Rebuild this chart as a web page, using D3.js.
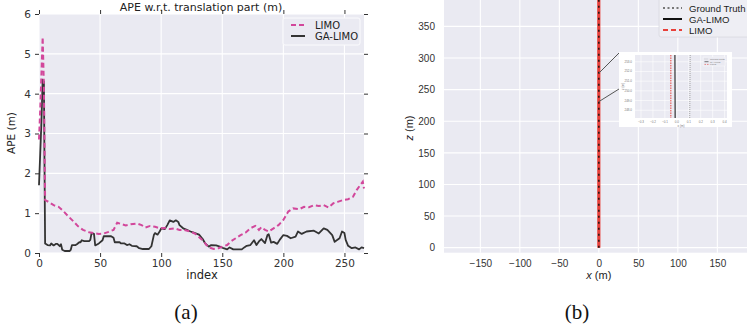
<!DOCTYPE html>
<html>
<head>
<meta charset="utf-8">
<script src="https://cdn.jsdelivr.net/npm/d3@7"></script>
<style>
  html, body { margin: 0; padding: 0; background: #ffffff; }
  svg { display: block; }
</style>
</head>
<body>
<svg id="fig" width="747" height="331"></svg>
<script>
// ---- (a) APE per frame index ----
const limoIdx = [0,1,2,3,4,5,8,12,16,20,24,28,32,36,41,45,49,53,57,61,64,67,71,75,80,84,87,91,95,99,103,107,111,115,119,124,128,132,135,137,140,143,147,150,154,157,161,165,169,173,177,180,182,185,188,192,196,200,204,208,213,217,221,225,229,233,237,241,245,249,253,257,260,263,265,266];
const limoApe = [2.85,3.6,4.5,5.42,4.2,1.33,1.28,1.2,1.16,1.05,0.92,0.8,0.67,0.58,0.52,0.5,0.48,0.49,0.53,0.58,0.76,0.73,0.69,0.72,0.74,0.7,0.64,0.68,0.66,0.62,0.63,0.6,0.62,0.58,0.58,0.54,0.48,0.37,0.29,0.2,0.13,0.1,0.12,0.16,0.2,0.29,0.37,0.45,0.51,0.62,0.68,0.58,0.65,0.58,0.54,0.62,0.7,0.83,1.04,1.12,1.1,1.16,1.15,1.2,1.18,1.2,1.14,1.25,1.29,1.33,1.35,1.41,1.58,1.71,1.79,1.62];

const gaIdx = [0,1,2,3,4,5,7,9,10,12,14,15,17,18,19,21,25,26,27,30,31,33,34,35,37,41,42,43,45,46,49,52,53,59,61,62,66,67,70,72,74,76,80,82,85,90,92,94,95,97,99,100,103,105,107,110,112,114,115,118,121,124,126,131,134,136,139,141,145,148,151,154,156,159,166,168,170,173,176,178,180,182,185,187,188,190,192,195,197,200,203,206,210,212,215,219,225,229,233,236,240,242,246,248,250,251,253,256,259,262,264,266];
const gaApe = [1.7,2.5,3.3,4.35,4.3,0.24,0.2,0.19,0.24,0.19,0.23,0.23,0.17,0.22,0.08,0.05,0.05,0.08,0.2,0.2,0.22,0.27,0.27,0.32,0.3,0.3,0.33,0.5,0.48,0.19,0.24,0.32,0.42,0.42,0.38,0.27,0.27,0.24,0.24,0.2,0.22,0.18,0.17,0.12,0.1,0.1,0.17,0.45,0.5,0.46,0.55,0.62,0.6,0.7,0.82,0.78,0.82,0.78,0.7,0.62,0.58,0.54,0.52,0.46,0.35,0.24,0.16,0.2,0.19,0.16,0.12,0.09,0.14,0.09,0.09,0.14,0.18,0.2,0.32,0.2,0.29,0.35,0.25,0.45,0.47,0.26,0.28,0.23,0.33,0.45,0.43,0.37,0.41,0.54,0.48,0.54,0.56,0.49,0.62,0.58,0.45,0.28,0.37,0.54,0.5,0.33,0.18,0.12,0.14,0.09,0.14,0.12];

const apeXTicks = [0, 50, 100, 150, 200, 250];
const apeYTicks = [0, 1, 2, 3, 4, 5, 6];

// ---- (b) trajectories, x vs z ----
const trajZ    = [0, 100, 200, 247, 254, 300, 400];
const gtX      = [0, 0.05, 0.09, 0.108, 0.112, 0.13, 0.17];
const gaX      = [0, -0.01, -0.012, -0.014, -0.016, -0.02, -0.03];
const limoX    = [0, -0.03, -0.045, -0.05, -0.05, -0.06, -0.08];
const trajXTicks = [-150, -100, -50, 0, 50, 100, 150];
const trajZTicks = [0, 50, 100, 150, 200, 250, 300, 350];
const insetXTicks = [-0.3, -0.2, -0.1, 0.0, 0.1, 0.2, 0.3, 0.4];
const insetZTicks = [248, 249, 250, 251, 252, 253];
const zoomBand = [231, 276];

const BG = "#eaeaf2";
const PINK = "#d2479b";
const DARK = "#333333";
const RED = "#e8403a";
const svg = d3.select("#fig");

/* ================= panel (a) ================= */
const xa = d3.scaleLinear().domain([0, 266]).range([39, 364]);
const ya = d3.scaleLinear().domain([0, 6]).range([253, 14]);
const ga = svg.append("g");

ga.append("rect").attr("x", xa(0)).attr("y", ya(6))
  .attr("width", xa(266) - xa(0)).attr("height", ya(0) - ya(6)).attr("fill", BG);

ga.selectAll(".gx").data(apeXTicks).join("line")
  .attr("x1", d => xa(d)).attr("x2", d => xa(d)).attr("y1", ya(0)).attr("y2", ya(6))
  .attr("stroke", "#fff").attr("stroke-width", 1.1);
ga.selectAll(".gy").data(apeYTicks).join("line")
  .attr("x1", xa(0)).attr("x2", xa(266)).attr("y1", d => ya(d)).attr("y2", d => ya(d))
  .attr("stroke", "#fff").attr("stroke-width", 1.1);

const fontA = "'DejaVu Sans', sans-serif";
function styleAxis(g) {
  g.select(".domain").remove();
  g.selectAll(".tick line").attr("stroke", DARK).attr("stroke-width", 1);
  g.selectAll(".tick text").attr("fill", DARK).style("font-family", fontA).style("font-size", "10.5px");
}
ga.append("g").attr("transform", `translate(0,${ya(0)})`)
  .call(d3.axisBottom(xa).tickValues(apeXTicks).tickSize(4).tickPadding(3)).call(styleAxis);
ga.append("g").attr("transform", `translate(0,${ya(6)})`)
  .call(d3.axisTop(xa).tickValues(apeXTicks).tickSize(4).tickFormat("")).call(styleAxis);
ga.append("g").attr("transform", `translate(${xa(0)},0)`)
  .call(d3.axisLeft(ya).tickValues(apeYTicks).tickSize(4).tickPadding(4).tickFormat(d3.format("d"))).call(styleAxis);
ga.append("g").attr("transform", `translate(${xa(266)},0)`)
  .call(d3.axisRight(ya).tickValues(apeYTicks).tickSize(4).tickFormat("")).call(styleAxis);

const lineA = (xs, ys) => d3.line().x((d, i) => xa(xs[i])).y((d, i) => ya(ys[i]))(xs);
ga.append("path").attr("d", lineA(gaIdx, gaApe)).attr("fill", "none")
  .attr("stroke", DARK).attr("stroke-width", 1.8).attr("stroke-linejoin", "round");
ga.append("path").attr("d", lineA(limoIdx, limoApe)).attr("fill", "none")
  .attr("stroke", PINK).attr("stroke-width", 2).attr("stroke-dasharray", "5,3");

ga.append("text").attr("x", 201).attr("y", 11).attr("text-anchor", "middle")
  .style("font-family", fontA).style("font-size", "11px").attr("fill", "#222")
  .text("APE w.r.t. translation part (m)");
ga.append("text").attr("x", 202).attr("y", 279).attr("text-anchor", "middle")
  .style("font-family", fontA).style("font-size", "11.5px").attr("fill", "#222").text("index");
ga.append("text").attr("transform", "translate(15,133) rotate(-90)").attr("text-anchor", "middle")
  .style("font-family", fontA).style("font-size", "10.5px").attr("fill", "#222").text("APE (m)");

// legend (a)
const lga = ga.append("g").attr("transform", "translate(283,18)");
lga.append("rect").attr("width", 77).attr("height", 27).attr("rx", 2)
  .attr("fill", BG).attr("stroke", "#fbfbfd").attr("stroke-width", 1);
[["LIMO", PINK, "5,3", 7], ["GA-LIMO", DARK, null, 18]].forEach(([t, c, dash, yy]) => {
  const l = lga.append("line").attr("x1", 8).attr("x2", 22).attr("y1", yy).attr("y2", yy)
    .attr("stroke", c).attr("stroke-width", 2);
  if (dash) l.attr("stroke-dasharray", dash);
  lga.append("text").attr("x", 32).attr("y", yy + 3.5).style("font-family", fontA)
    .style("font-size", "10px").attr("fill", "#222").text(t);
});

/* ================= panel (b) ================= */
const xb = d3.scaleLinear().domain([-196, 196]).range([444, 753.7]);
const yb = d3.scaleLinear().domain([-8, 400]).range([252.7, -5.2]);
const gb = svg.append("g");
const fontB = "'Liberation Sans', Arial, sans-serif";

gb.append("rect").attr("x", xb(-196)).attr("y", 0)
  .attr("width", 747 - xb(-196)).attr("height", yb(-8)).attr("fill", BG);
gb.selectAll(".gx").data(trajXTicks).join("line")
  .attr("x1", d => xb(d)).attr("x2", d => xb(d)).attr("y1", 0).attr("y2", yb(-8))
  .attr("stroke", "#fff").attr("stroke-width", 1.1);
gb.selectAll(".gy").data(trajZTicks).join("line")
  .attr("x1", xb(-196)).attr("x2", 747).attr("y1", d => yb(d)).attr("y2", d => yb(d))
  .attr("stroke", "#fff").attr("stroke-width", 1.1);

function styleAxisB(g) {
  g.select(".domain").remove();
  g.selectAll(".tick line").remove();
  g.selectAll(".tick text").attr("fill", "#333").style("font-family", fontB).style("font-size", "10px");
}
gb.append("g").attr("transform", `translate(0,${yb(-8)})`)
  .call(d3.axisBottom(xb).tickValues(trajXTicks).tickSize(0).tickPadding(7)
    .tickFormat(d => d < 0 ? "\u2212" + Math.abs(d) : d)).call(styleAxisB);
gb.append("g").attr("transform", `translate(${xb(-196)},0)`)
  .call(d3.axisLeft(yb).tickValues(trajZTicks).tickSize(0).tickPadding(9)).call(styleAxisB);

gb.append("text").attr("x", xb(0)).attr("y", 279).attr("text-anchor", "middle")
  .style("font-family", fontB).style("font-size", "11px").attr("fill", "#222")
  .html("<tspan font-style='italic'>x</tspan> (m)");
gb.append("text").attr("transform", "translate(413,128) rotate(-90)").attr("text-anchor", "middle")
  .style("font-family", fontB).style("font-size", "11px").attr("fill", "#222")
  .html("<tspan font-style='italic'>z</tspan> (m)");

const clipB = gb.append("clipPath").attr("id", "clipB");
clipB.append("rect").attr("x", xb(-196)).attr("y", 0).attr("width", 747 - xb(-196)).attr("height", yb(-8));
const lineB = (xs, sx, sy) => d3.line().x((d, i) => sx(xs[i])).y((d, i) => sy(trajZ[i]))(xs);

const trajG = gb.append("g").attr("clip-path", "url(#clipB)");
trajG.append("path").attr("d", lineB(gtX, xb, yb)).attr("fill", "none")
  .attr("stroke", "#888").attr("stroke-width", 2).attr("stroke-dasharray", "1.5,2");
trajG.append("path").attr("d", lineB(limoX, xb, yb)).attr("fill", "none")
  .attr("stroke", RED).attr("stroke-width", 3.2);
trajG.append("path").attr("d", lineB(gaX, xb, yb)).attr("fill", "none")
  .attr("stroke", "#111").attr("stroke-width", 1.4).attr("stroke-dasharray", "2,4");

// zoomed inset
const inset = { x0: 619, y0: 52, x1: 732, y1: 127, px0: 635, px1: 727, py0: 55, py1: 118 };
const xi = d3.scaleLinear().domain([-0.35, 0.42]).range([inset.px0, inset.px1]);
const yi = d3.scaleLinear().domain([247.2, 253.7]).range([inset.py1, inset.py0]);

gb.append("line").attr("x1", xb(0)).attr("y1", yb(zoomBand[1])).attr("x2", inset.x0).attr("y2", inset.y0 + 1)
  .attr("stroke", "#555").attr("stroke-width", 1);
gb.append("line").attr("x1", xb(0)).attr("y1", yb(zoomBand[0])).attr("x2", inset.x0).attr("y2", 89)
  .attr("stroke", "#555").attr("stroke-width", 1);

const gi = gb.append("g");
gi.append("rect").attr("x", inset.x0).attr("y", inset.y0).attr("width", inset.x1 - inset.x0)
  .attr("height", inset.y1 - inset.y0).attr("fill", "#fff");
gi.append("rect").attr("x", inset.px0).attr("y", inset.py0).attr("width", inset.px1 - inset.px0)
  .attr("height", inset.py1 - inset.py0).attr("fill", BG);
gi.selectAll(".ix").data(insetXTicks).join("line")
  .attr("x1", d => xi(d)).attr("x2", d => xi(d)).attr("y1", inset.py0).attr("y2", inset.py1)
  .attr("stroke", "#fff").attr("stroke-width", 0.6);
gi.selectAll(".iy").data(insetZTicks).join("line")
  .attr("x1", inset.px0).attr("x2", inset.px1).attr("y1", d => yi(d)).attr("y2", d => yi(d))
  .attr("stroke", "#fff").attr("stroke-width", 0.6);
gi.selectAll(".ixl").data(insetXTicks).join("text")
  .attr("x", d => xi(d)).attr("y", inset.py1 + 5).attr("text-anchor", "middle")
  .style("font-family", fontB).style("font-size", "3px").attr("fill", "#777")
  .text(d => d3.format(".1f")(d).replace("-", "\u2212"));
gi.selectAll(".iyl").data(insetZTicks).join("text")
  .attr("x", inset.px0 - 3).attr("y", d => yi(d) + 1).attr("text-anchor", "end")
  .style("font-family", fontB).style("font-size", "3px").attr("fill", "#777")
  .text(d => d3.format(".1f")(d));
gi.append("text").attr("x", (inset.px0 + inset.px1) / 2).attr("y", inset.py1 + 8.5)
  .attr("text-anchor", "middle").style("font-family", fontB).style("font-size", "3px").attr("fill", "#777").text("x (m)");
gi.append("text").attr("transform", `translate(${inset.px0 - 11},${(inset.py0 + inset.py1) / 2}) rotate(-90)`)
  .attr("text-anchor", "middle").style("font-family", fontB).style("font-size", "3px").attr("fill", "#777").text("z (m)");

const clipI = gi.append("clipPath").attr("id", "clipI");
clipI.append("rect").attr("x", inset.px0).attr("y", inset.py0).attr("width", inset.px1 - inset.px0).attr("height", inset.py1 - inset.py0);
const trajI = gi.append("g").attr("clip-path", "url(#clipI)");
trajI.append("path").attr("d", lineB(gtX, xi, yi)).attr("fill", "none")
  .attr("stroke", "#999").attr("stroke-width", 0.9).attr("stroke-dasharray", "1,1");
trajI.append("path").attr("d", lineB(gaX, xi, yi)).attr("fill", "none")
  .attr("stroke", "#222").attr("stroke-width", 1.1);
trajI.append("path").attr("d", lineB(limoX, xi, yi)).attr("fill", "none")
  .attr("stroke", RED).attr("stroke-width", 1).attr("stroke-dasharray", "1.5,1");

// inset legend
const lgi = gi.append("g").attr("transform", "translate(703,57)");
lgi.append("rect").attr("width", 22).attr("height", 9).attr("fill", BG).attr("stroke", "#fff").attr("stroke-width", 0.4);
[["Ground Truth", "#aaa", "1,1", 2], ["GA-LIMO", "#222", null, 4.7], ["LIMO", RED, "1.5,1", 7.4]].forEach(([t, c, dash, yy]) => {
  const l = lgi.append("line").attr("x1", 1.5).attr("x2", 5.5).attr("y1", yy).attr("y2", yy)
    .attr("stroke", c).attr("stroke-width", 0.6);
  if (dash) l.attr("stroke-dasharray", dash);
  lgi.append("text").attr("x", 7).attr("y", yy + 0.9).style("font-family", fontB)
    .style("font-size", "2.5px").attr("fill", "#777").text(t);
});

// legend (b)
const lgb = gb.append("g").attr("transform", "translate(659,-2)");
lgb.append("rect").attr("width", 95).attr("height", 39).attr("rx", 2)
  .attr("fill", "#eeeef4").attr("stroke", "#d8d8e0").attr("stroke-width", 0.8);
[["Ground Truth", "#777", "2,2.5", 10], ["GA-LIMO", "#111", null, 21], ["LIMO", RED, "5,3", 32]].forEach(([t, c, dash, yy]) => {
  const l = lgb.append("line").attr("x1", 4).attr("x2", 23).attr("y1", yy).attr("y2", yy)
    .attr("stroke", c).attr("stroke-width", 2);
  if (dash) l.attr("stroke-dasharray", dash);
  lgb.append("text").attr("x", 30).attr("y", yy + 3.5).style("font-family", fontB)
    .style("font-size", "9.6px").attr("fill", "#222").text(t);
});

/* ================= captions ================= */
const fontCap = "'Liberation Serif', 'DejaVu Serif', serif";
svg.append("text").attr("x", 186).attr("y", 319).attr("text-anchor", "middle")
  .style("font-family", fontCap).style("font-size", "21px").attr("fill", "#111").text("(a)");
svg.append("text").attr("x", 577).attr("y", 319).attr("text-anchor", "middle")
  .style("font-family", fontCap).style("font-size", "21px").attr("fill", "#111").text("(b)");
</script>
</body>
</html>
